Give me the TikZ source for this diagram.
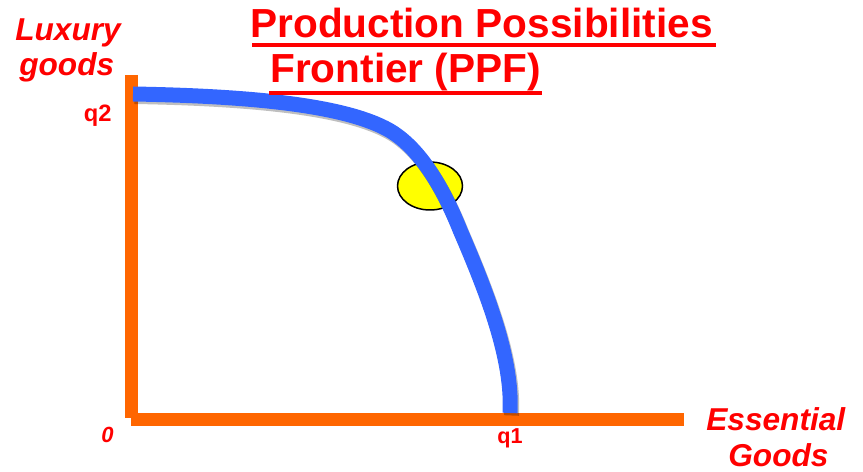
\documentclass[tikz,border=0pt]{standalone}
\usepackage{fontspec}
\setmainfont{Liberation Sans}
\usepackage{tikz}
\usetikzlibrary{shapes.geometric}
\definecolor{ppf-blue}{HTML}{3366FF}
\definecolor{axis-orange}{HTML}{FF6600}
\definecolor{label-red}{HTML}{FF0000}
\definecolor{dot-yellow}{HTML}{FFFF00}

\begin{document}
\begin{tikzpicture}[x=0.02cm,y=-0.02cm,
  axislbl/.style={text=label-red,inner sep=0pt,font=\fontsize{18}{18}\selectfont\bfseries\itshape},
  ticklbl/.style={text=label-red,inner sep=0pt,font=\fontsize{13.5}{13.5}\selectfont\bfseries},
  titlelbl/.style={text=label-red,inner sep=0pt,font=\fontsize{23.1}{23.1}\selectfont\bfseries}]
  \clip (0,0) rectangle (863,472);
  % axes
  \coordinate (ytop) at (131.5,75); \coordinate (corner) at (131.5,418);
  \coordinate (xstart) at (131,419.5); \coordinate (xend) at (684,419.5);
  \draw[axis-orange,line width=0.26cm] (ytop)--(corner);
  \draw[axis-orange,line width=0.26cm] (xstart)--(xend);
  % chosen point
  \node[ellipse,draw=black,line width=0.85pt,fill=dot-yellow,minimum width=1.3cm,minimum height=0.96cm,inner sep=0pt] (point) at (430,186){};
  % frontier
  \draw[black,opacity=0.25,line width=0.3cm,shift={(1.5,2.5)}] (133,94) .. controls (250,96) and (340,105) .. (385,128)
    .. controls (415,143) and (440,180) .. (460,230) .. controls (488,295) and (513,360) .. (510,413);
  \draw[ppf-blue,line width=0.3cm] (133,94) .. controls (250,96) and (340,105) .. (385,128)
    .. controls (415,143) and (440,180) .. (460,230) .. controls (488,295) and (513,360) .. (510,413);
  % title
  \node[titlelbl,anchor=base west] (title1) at (250,38){Production Possibilities};
  \node[titlelbl,anchor=base west] (title2) at (270,83){Frontier (PPF)};
  \draw[label-red,line width=0.08cm] (252,45)--(716,45);
  \draw[label-red,line width=0.08cm] (269,93)--(542,93);
  % labels
  \node[axislbl,anchor=base west] (ylbl1) at (15,41){Luxury};
  \node[axislbl,anchor=base west] (ylbl2) at (19,76){goods};
  \node[axislbl,anchor=base west] (xlbl1) at (706,431){Essential};
  \node[axislbl,anchor=base west] (xlbl2) at (728,467){Goods};
  \node[ticklbl,anchor=base east] (q2) at (112,122){q2};
  \node[ticklbl,font=\fontsize{12.3}{12.3}\selectfont\bfseries,anchor=base west] (q1) at (497,444){q1};
  \node[ticklbl,font=\fontsize{12.5}{12.5}\selectfont\bfseries\itshape,anchor=base west] (zero) at (101,443){0};
\end{tikzpicture}
\end{document}
